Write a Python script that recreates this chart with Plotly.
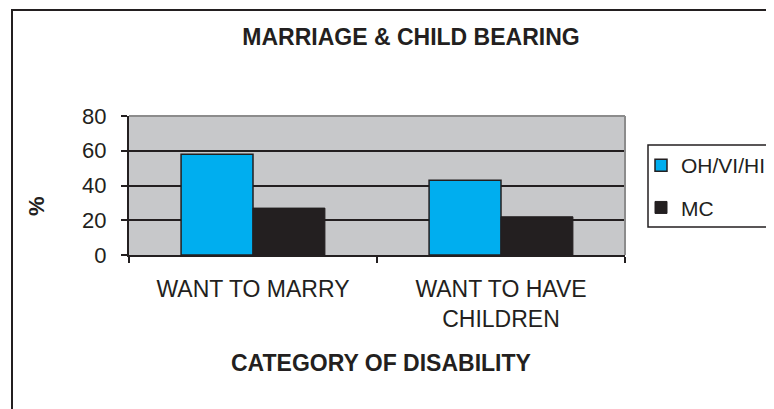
import plotly.graph_objects as go

categories = ["WANT TO MARRY", "WANT TO HAVE<br>CHILDREN"]
oh_vi_hi = [58, 43]
mc = [27, 22]
y_ticks = [0, 20, 40, 60, 80]

INK = "#231F20"
FONT = "Liberation Sans, Arial, sans-serif"

# the page body adds an 8px margin, so the figure is sized to fit the window
W, H = 766, 401
L, T, R, B = 121, 108, 149, 154
PW, PH = W - L - R, H - T - B


def px_x(x):
    return (x - 8 - L) / PW


def px_y(y):
    return (H - B - (y - 8)) / PH


fig = go.Figure()
fig.add_trace(
    go.Bar(
        x=categories,
        y=oh_vi_hi,
        name="OH/VI/HI",
        marker=dict(color="#00AEEF", line=dict(color=INK, width=1.5)),
        legendgroup="a",
    )
)
fig.add_trace(
    go.Bar(
        x=categories,
        y=mc,
        name="MC",
        marker=dict(color=INK, line=dict(color=INK, width=1)),
        legendgroup="b",
    )
)

fig.update_layout(
    width=W,
    height=H,
    margin=dict(l=L, r=R, t=T, b=B, autoexpand=False),
    paper_bgcolor="white",
    plot_bgcolor="#C7C8CA",
    font=dict(family=FONT, size=22, color=INK),
    barmode="group",
    bargap=0.42,
    bargroupgap=0,
    showlegend=True,
    legend=dict(
        x=px_x(641),
        xanchor="left",
        y=px_y(145),
        yanchor="top",
        bgcolor="rgba(0,0,0,0)",
        borderwidth=0,
        font=dict(size=21),
        traceorder="grouped",
        tracegroupgap=12,
        itemwidth=30,
    ),
    title=dict(
        text="<b>MARRIAGE & CHILD BEARING</b>",
        x=(411 - 8) / W,
        xanchor="center",
        y=1 - (37 - 8) / H,
        yanchor="middle",
        font=dict(size=23),
    ),
)

fig.update_xaxes(
    showline=True,
    linecolor=INK,
    linewidth=2,
    ticks="outside",
    tickson="boundaries",
    ticklen=6,
    tickwidth=2,
    tickcolor=INK,
    ticklabelstandoff=12,
    tickfont=dict(size=23),
    showgrid=False,
)
fig.update_yaxes(
    range=[0, 80],
    tickvals=y_ticks,
    showline=True,
    linecolor=INK,
    linewidth=2,
    ticks="outside",
    ticklen=6,
    tickwidth=2,
    tickcolor=INK,
    ticklabelstandoff=10,
    showgrid=True,
    gridcolor=INK,
    gridwidth=2,
    zeroline=False,
)

# grey top and right border of the plot area
fig.add_shape(type="line", xref="paper", yref="paper", x0=0, x1=1, y0=1, y1=1,
              line=dict(color="#8C8C8C", width=2), layer="above")
fig.add_shape(type="line", xref="paper", yref="paper", x0=1, x1=1, y0=0, y1=1,
              line=dict(color="#8C8C8C", width=2), layer="above")

# outer frame of the chart (runs off the right and bottom edges)
fig.add_shape(type="rect", xref="paper", yref="paper",
              x0=px_x(12), x1=2, y0=-3, y1=px_y(10),
              line=dict(color=INK, width=2), layer="below")

# legend box (runs off the right edge)
fig.add_shape(type="rect", xref="paper", yref="paper",
              x0=px_x(648), x1=px_x(800), y0=px_y(227), y1=px_y(145),
              line=dict(color=INK, width=1.5), fillcolor="white", layer="below")

fig.add_annotation(
    text="<b>CATEGORY OF DISABILITY</b>",
    xref="paper", yref="paper",
    x=px_x(381), y=px_y(363),
    xanchor="center", yanchor="middle",
    showarrow=False, font=dict(size=23),
)
fig.add_annotation(
    text="<b>%</b>",
    xref="paper", yref="paper",
    x=px_x(36), y=px_y(206),
    xanchor="center", yanchor="middle",
    textangle=-90, showarrow=False, font=dict(size=22),
)

fig.write_html("out.html")
